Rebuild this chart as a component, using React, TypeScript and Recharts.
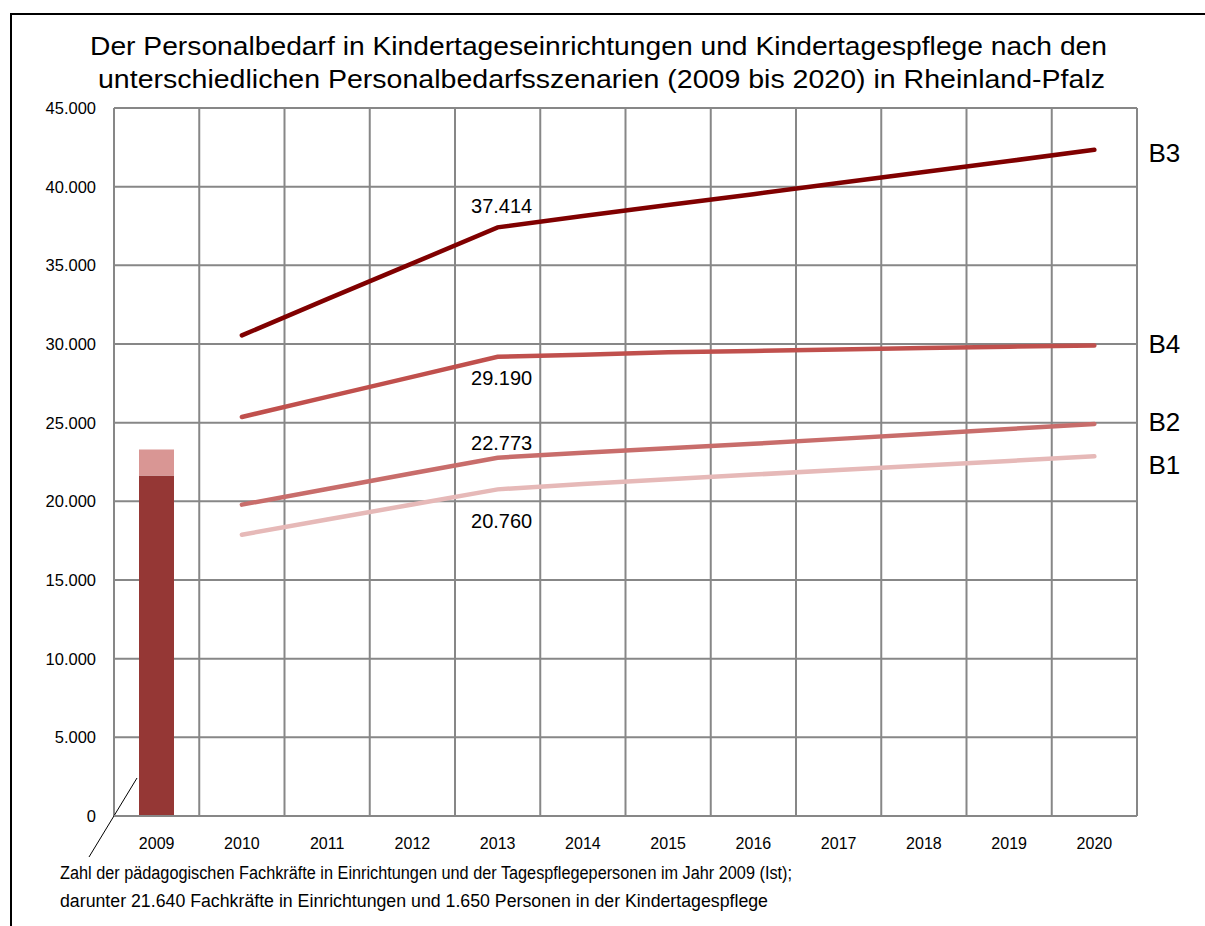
import React from "react"
import { ComposedChart, Bar, Line, XAxis, YAxis, CartesianGrid, LabelList } from "recharts"

const years = ["2009", "2010", "2011", "2012", "2013", "2014", "2015", "2016", "2017", "2018", "2019", "2020"]
// Ist-Wert 2009 (gestapelt)
const fachkraefte = [21640, null, null, null, null, null, null, null, null, null, null, null]
const tagespflege = [1650, null, null, null, null, null, null, null, null, null, null, null]
// Szenarien
const b1 = [null, 17880, 18840, 19800, 20760, 21100, 21400, 21700, 21990, 22280, 22570, 22860]
const b2 = [null, 19790, 20780, 21780, 22773, 23090, 23370, 23660, 23970, 24280, 24600, 24920]
const b3 = [null, 30550, 32850, 35120, 37414, 38130, 38830, 39520, 40230, 40930, 41630, 42340]
const b4 = [null, 25360, 26640, 27910, 29190, 29320, 29470, 29560, 29650, 29740, 29830, 29910]
const yTicks = [0, 5000, 10000, 15000, 20000, 25000, 30000, 35000, 40000, 45000]

const titleLines = [
  "Der Personalbedarf in Kindertageseinrichtungen und Kindertagespflege nach den",
  "unterschiedlichen Personalbedarfsszenarien (2009 bis 2020) in Rheinland-Pfalz",
]
const noteLines = [
  "Zahl der pädagogischen Fachkräfte in Einrichtungen und der Tagespflegepersonen im Jahr 2009 (Ist);",
  "darunter 21.640 Fachkräfte in Einrichtungen und 1.650 Personen in der Kindertagespflege",
]

const data = years.map((year, i) => ({
  year,
  fachkraefte: fachkraefte[i],
  tagespflege: tagespflege[i],
  b1: b1[i],
  b2: b2[i],
  b3: b3[i],
  b4: b4[i],
}))

const FONT = "'Liberation Sans', Arial, sans-serif"
const GRID = "#878787"

const fmt = (v: number) => String(v).replace(/\B(?=(\d{3})+(?!\d))/g, ".")

const BaseBar = (props: any) => {
  const { x, y, width, height, fill } = props
  if (!height || height <= 0) return null
  const bottom = y + height
  return (
    <g>
      <rect x={x} y={y} width={width} height={height} fill={fill} />
      <line x1={x - 2} y1={bottom - 38} x2={x - 50} y2={bottom + 41} stroke="#000" strokeWidth={1} />
    </g>
  )
}

const makeLabel = (name: string, arr: (number | null)[], valueDy: number, nameDy: number) => (props: any) => {
  const { value } = props
  const x = props.x ?? props.viewBox?.x
  const y = props.y ?? props.viewBox?.y
  if (x == null || y == null) return null
  if (value === arr[4]) {
    return (
      <text x={x + 4} y={y + valueDy} textAnchor="middle" dominantBaseline="central" fontSize={20} fontFamily={FONT} fill="#000">
        {fmt(value)}
      </text>
    )
  }
  if (value === arr[arr.length - 1]) {
    return (
      <text x={x + 70} y={y + nameDy} textAnchor="middle" dominantBaseline="central" fontSize={26} fontFamily={FONT} fill="#000">
        {name}
      </text>
    )
  }
  return null
}

export default function App() {
  return (
    <div style={{ position: "absolute", left: 0, top: 0, width: 1205, height: 926, overflow: "hidden", background: "#fff" }}>
      <div style={{ position: "absolute", left: 10, top: 13, width: 1400, height: 1200, border: "2px solid #000", boxSizing: "border-box" }} />
      <div style={{ position: "absolute", left: 0, top: 0 }}>
        <ComposedChart width={1205} height={926} data={data} margin={{ top: 108, right: 68, bottom: 80, left: 34 }}>
          <CartesianGrid
            stroke={GRID}
            strokeWidth={2}
            verticalCoordinatesGenerator={(args: any) => {
              const o = args.offset
              return years.concat([""]).map((_, i) => o.left + (i * o.width) / years.length)
            }}
          />
          <XAxis
            dataKey="year"
            axisLine={{ stroke: GRID, strokeWidth: 2 }}
            tickLine={false}
            tickSize={6}
            tickMargin={16}
            height={30}
            interval={0}
            tick={{ fontSize: 16, fontFamily: FONT, fill: "#000" }}
          />
          <YAxis
            width={80}
            domain={[0, 45000]}
            ticks={yTicks}
            tickFormatter={fmt}
            axisLine={false}
            tickLine={false}
            tickSize={6}
            tickMargin={12}
            tick={{ fontSize: 16.5, fontFamily: FONT, fill: "#000" }}
          />
          <Bar dataKey="fachkraefte" stackId="ist" fill="#953735" barSize={35} shape={<BaseBar />} isAnimationActive={false} />
          <Bar dataKey="tagespflege" stackId="ist" fill="#D99694" barSize={35} isAnimationActive={false} />
          <Line type="linear" dataKey="b1" stroke="#E6B9B8" strokeWidth={4.5} strokeLinecap="round" dot={false} activeDot={false} isAnimationActive={false}>
            <LabelList dataKey="b1" content={makeLabel("B1", b1, 32, 9)} />
          </Line>
          <Line type="linear" dataKey="b2" stroke="#C86D6B" strokeWidth={4.5} strokeLinecap="round" dot={false} activeDot={false} isAnimationActive={false}>
            <LabelList dataKey="b2" content={makeLabel("B2", b2, -15, -2)} />
          </Line>
          <Line type="linear" dataKey="b4" stroke="#C0504D" strokeWidth={4.5} strokeLinecap="round" dot={false} activeDot={false} isAnimationActive={false}>
            <LabelList dataKey="b4" content={makeLabel("B4", b4, 21, -1)} />
          </Line>
          <Line type="linear" dataKey="b3" stroke="#800000" strokeWidth={4.5} strokeLinecap="round" dot={false} activeDot={false} isAnimationActive={false}>
            <LabelList dataKey="b3" content={makeLabel("B3", b3, -21, 3)} />
          </Line>
        </ComposedChart>
      </div>
      <svg width={1205} height={926} style={{ position: "absolute", left: 0, top: 0, pointerEvents: "none" }}>
        <text x={90} y={55} fontSize={26} fontFamily={FONT} fill="#000" textLength={1017} lengthAdjust="spacingAndGlyphs">
          {titleLines[0]}
        </text>
        <text x={98} y={88} fontSize={26} fontFamily={FONT} fill="#000" textLength={1007} lengthAdjust="spacingAndGlyphs">
          {titleLines[1]}
        </text>
        <text x={60} y={879} fontSize={18} fontFamily={FONT} fill="#000" textLength={732} lengthAdjust="spacingAndGlyphs">
          {noteLines[0]}
        </text>
        <text x={60} y={907} fontSize={18} fontFamily={FONT} fill="#000" textLength={708} lengthAdjust="spacingAndGlyphs">
          {noteLines[1]}
        </text>
      </svg>
    </div>
  )
}
